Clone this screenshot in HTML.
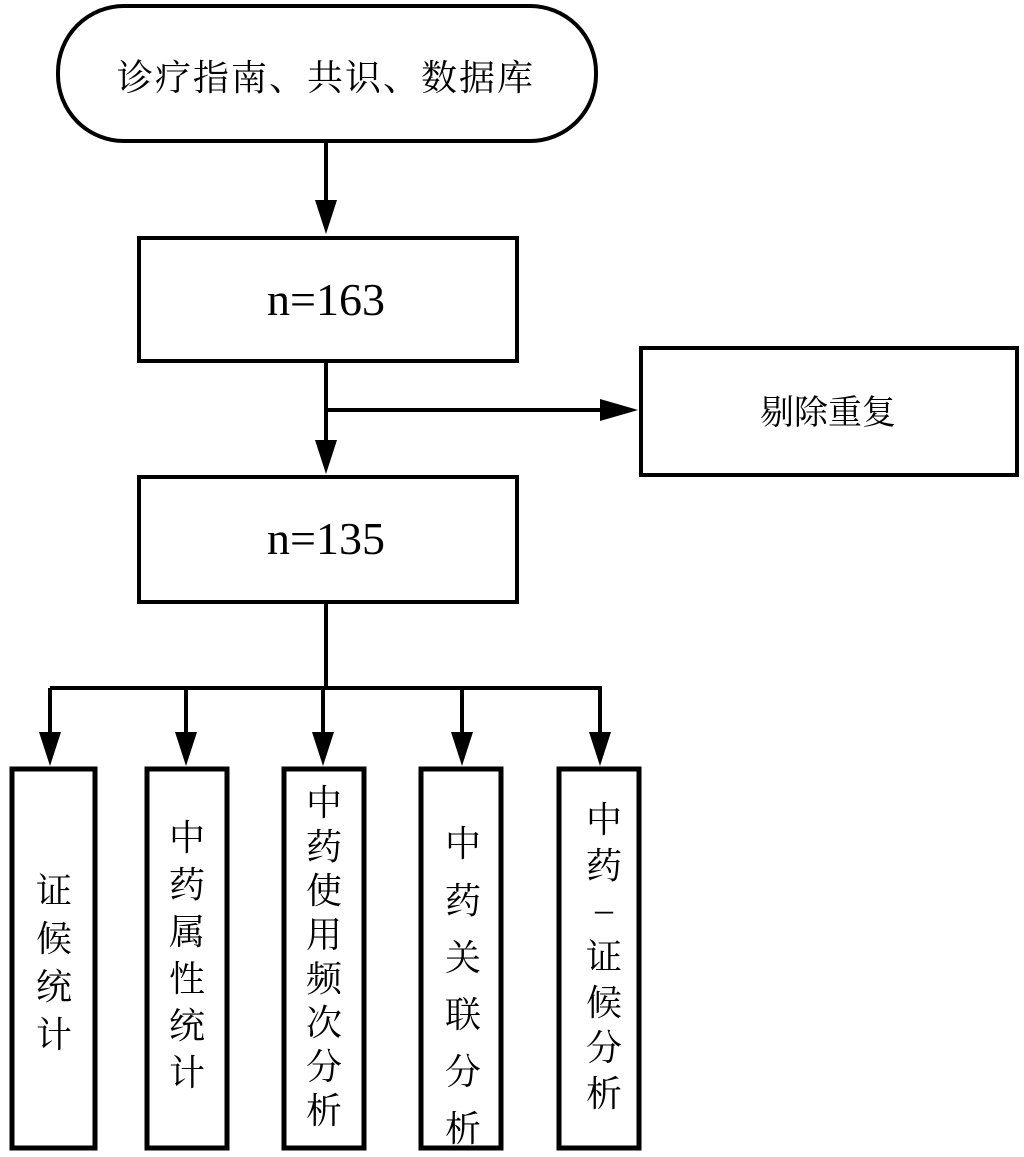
<!DOCTYPE html>
<html><head><meta charset="utf-8"><style>
html,body{margin:0;padding:0;background:#fff;}
svg{display:block}
.cn{font-family:"Liberation Serif","Noto Serif CJK SC",serif;fill:#000;}
.num{font-family:"Liberation Serif",serif;fill:#000;}
</style></head><body>
<svg width="1024" height="1157" viewBox="0 0 1024 1157" xmlns="http://www.w3.org/2000/svg">
<g fill="none" stroke="#000" stroke-width="4">
<rect x="58" y="6" width="538" height="135" rx="66" ry="66"/>
<rect x="139" y="238" width="378" height="123"/>
<rect x="641" y="348" width="376" height="127"/>
<rect x="139" y="477" width="378" height="125"/>
<rect x="12" y="769" width="83" height="379" stroke-width="5"/>
<rect x="147" y="769" width="80" height="379" stroke-width="5"/>
<rect x="284" y="769" width="80" height="379" stroke-width="5"/>
<rect x="421" y="769" width="80" height="379" stroke-width="5"/>
<rect x="559" y="769" width="80" height="379" stroke-width="5"/>
<path d="M326 141 V205 M326 361 V445 M326 410 H605 M326 602 V688 M50 688 H600 M50 688 V735 M186 686 V735 M323 686 V735 M462 686 V735 M600 686 V735"/>
</g>
<g fill="#000">
<polygon points="315,200 337,200 326,234"/>
<polygon points="315,440 337,440 326,474"/>
<polygon points="600,399 600,421 638,410"/>
<polygon points="39,732 61,732 50,766"/>
<polygon points="175,732 197,732 186,766"/>
<polygon points="312,732 334,732 323,766"/>
<polygon points="451,732 473,732 462,766"/>
<polygon points="589,732 611,732 600,766"/>
</g>
<text class="cn" x="326" y="90" font-size="36" text-anchor="middle" letter-spacing="2">诊疗指南、共识、数据库</text>
<text class="num" x="326" y="315" font-size="46" text-anchor="middle">n=163</text>
<text class="num" x="326" y="554" font-size="46" text-anchor="middle">n=135</text>
<text class="cn" x="828" y="424" font-size="34" text-anchor="middle">剔除重复</text>
<g class="cn" font-size="36" text-anchor="middle">
<text x="54" y="903">证</text><text x="54" y="951">候</text><text x="54" y="999">统</text><text x="54" y="1047">计</text>
<text x="187" y="850">中</text><text x="187" y="897">药</text><text x="187" y="944">属</text><text x="187" y="991">性</text><text x="187" y="1038">统</text><text x="187" y="1085">计</text>
<text x="324" y="815">中</text><text x="324" y="859">药</text><text x="324" y="903">使</text><text x="324" y="947">用</text><text x="324" y="991">频</text><text x="324" y="1035">次</text><text x="324" y="1079">分</text><text x="324" y="1123">析</text>
<text x="463" y="856">中</text><text x="463" y="913">药</text><text x="463" y="970">关</text><text x="463" y="1027">联</text><text x="463" y="1084">分</text>
<text x="463" y="1084" opacity="0"> </text>
<text x="604" y="832">中</text><text x="604" y="878">药</text><text x="604" y="921">–</text><text x="604" y="969">证</text><text x="604" y="1015">候</text><text x="604" y="1060">分</text><text x="604" y="1106">析</text>
</g>
<text class="cn" x="463" y="1141" font-size="36" text-anchor="middle" opacity="0"> </text>
<text class="cn" x="463" y="1084" font-size="36" text-anchor="middle" opacity="0"> </text>
<text class="cn" x="463" y="1141" font-size="36" text-anchor="middle" style="display:none"> </text>
<text class="cn" x="463" y="1084" font-size="36" text-anchor="middle" style="display:none"> </text>
<text class="cn" x="463" y="1084" font-size="36" text-anchor="middle" style="display:none"> </text>
<text class="cn" x="463" y="1084" font-size="36" text-anchor="middle" style="display:none"> </text>
<text class="cn" x="463" y="1084" font-size="36" text-anchor="middle" style="display:none"> </text>
<text class="cn" x="463" y="1084" font-size="36" text-anchor="middle" style="display:none"> </text>
<text class="cn" x="463" y="1084" font-size="36" text-anchor="middle" style="display:none"> </text>
<text class="cn" x="463" y="1084" font-size="36" text-anchor="middle" style="display:none"> </text>
<text class="cn" x="463" y="1084" font-size="36" text-anchor="middle" style="display:none"> </text>
<text class="cn" x="463" y="1084" font-size="36" text-anchor="middle" style="display:none"> </text>
<text class="cn" x="463" y="1084" font-size="36" text-anchor="middle" style="display:none"> </text>
<text class="cn" x="463" y="1084" font-size="36" text-anchor="middle" style="display:none"> </text>
<text class="cn" x="463" y="1084" font-size="36" text-anchor="middle" style="display:none"> </text>
<text class="cn" x="463" y="1084" font-size="36" text-anchor="middle" style="display:none"> </text>
<text class="cn" x="463" y="1084" font-size="36" text-anchor="middle" style="display:none"> </text>
<text class="cn" x="463" y="1084" font-size="36" text-anchor="middle" style="display:none"> </text>
<text class="cn" x="463" y="1084" font-size="36" text-anchor="middle" style="display:none"> </text>
<text class="cn" x="463" y="1084" font-size="36" text-anchor="middle" style="display:none"> </text>
<text class="cn" x="463" y="1084" font-size="36" text-anchor="middle" style="display:none"> </text>
<text class="cn" x="463" y="1084" font-size="36" text-anchor="middle" style="display:none"> </text>
<text class="cn" x="463" y="1084" font-size="36" text-anchor="middle" style="display:none"> </text>
<text class="cn" x="463" y="1084" font-size="36" text-anchor="middle" style="display:none"> </text>
<text class="cn" x="463" y="1084" font-size="36" text-anchor="middle" style="display:none"> </text>
<text class="cn" x="463" y="1084" font-size="36" text-anchor="middle" style="display:none"> </text>
<text class="cn" x="463" y="1084" font-size="36" text-anchor="middle" style="display:none"> </text>
<text class="cn" x="463" y="1141" font-size="36" text-anchor="middle">析</text>
</svg>
</body></html>
